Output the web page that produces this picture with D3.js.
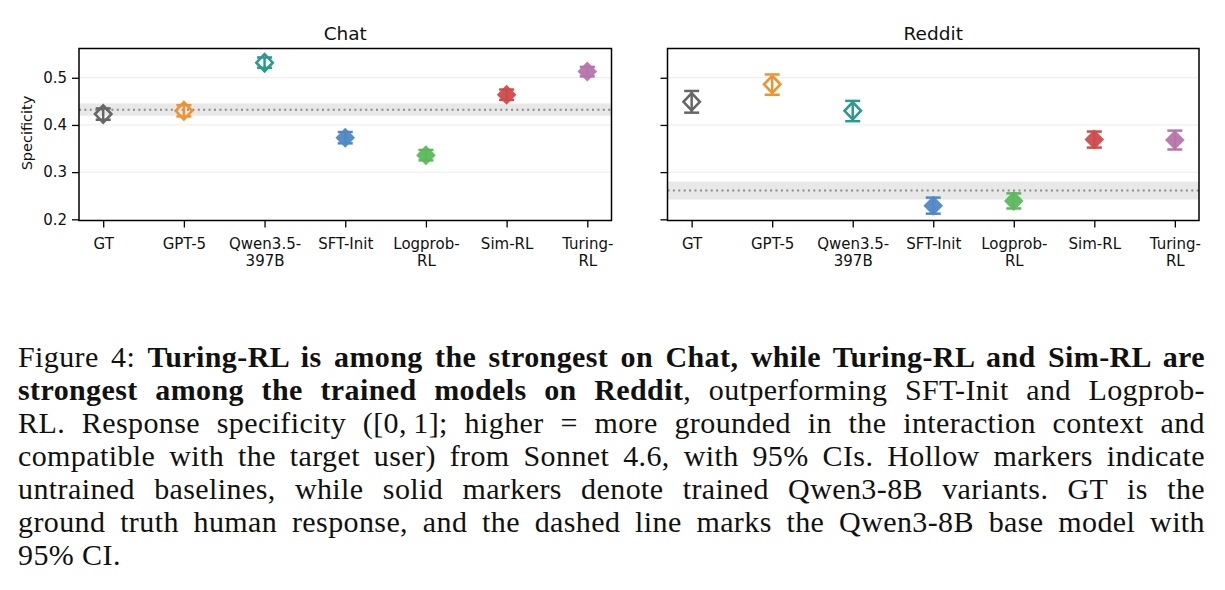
<!DOCTYPE html>
<html>
<head>
<meta charset="utf-8">
<script src="https://cdn.jsdelivr.net/npm/d3@7"></script>
<style>
  body { margin: 0; background: #fff; }
  #fig { position: absolute; left: 0; top: 0; }
  #caption { position: absolute; left: 18px; top: 340px; width: 1187px;
    font-family: "Liberation Serif", serif; font-size: 30px; line-height: 33px;
    letter-spacing: 0.4px; color: #111; }
  #caption div { text-align: justify; text-align-last: justify; white-space: nowrap; }
  #caption div.last { text-align-last: left; }
</style>
</head>
<body>
<svg id="fig" width="1225" height="320"></svg>
<div id="caption"></div>
<script>
// models and their labels (two-line ticks)
var models = ["GT", "GPT-5", "Qwen3.5-397B", "SFT-Init", "Logprob-RL", "Sim-RL", "Turing-RL"];
var tickLines = [["GT"], ["GPT-5"], ["Qwen3.5-", "397B"], ["SFT-Init"], ["Logprob-", "RL"], ["Sim-RL"], ["Turing-", "RL"]];
var trained = [false, false, false, true, true, true, true];
var colors = ["#666666", "#f0922f", "#2a9a8c", "#4f88c4", "#5cb85c", "#cf4b4b", "#b774aa"];

// Chat
var chatMean = [0.423, 0.430, 0.532, 0.373, 0.336, 0.464, 0.513];
var chatLo   = [0.411, 0.418, 0.521, 0.361, 0.325, 0.453, 0.503];
var chatHi   = [0.435, 0.442, 0.543, 0.385, 0.347, 0.475, 0.523];
var chatBase = [0.432, 0.4195, 0.4455];

// Reddit
var redditMean = [0.449, 0.486, 0.430, 0.229, 0.239, 0.369, 0.368];
var redditLo   = [0.426, 0.464, 0.408, 0.212, 0.223, 0.352, 0.348];
var redditHi   = [0.472, 0.507, 0.451, 0.246, 0.255, 0.386, 0.388];
var redditBase = [0.261, 0.242, 0.280];

var yTicks = [0.2, 0.3, 0.4, 0.5];
var yDomain = [0.1975, 0.562];

var svg = d3.select("#fig");
var plotTop = 48.5, plotBottom = 220.5;

function panel(title, x0, x1, mean, lo, hi, base, showLabels) {
  var g = svg.append("g");
  var x = d3.scalePoint().domain(models).range([x0, x1]).padding(0.3);
  var y = d3.scaleLinear().domain(yDomain).range([plotBottom, plotTop]);

  // grid
  g.selectAll(".grid").data(yTicks.slice(1)).enter().append("line")
    .attr("x1", x0).attr("x2", x1)
    .attr("y1", function(d){ return y(d); }).attr("y2", function(d){ return y(d); })
    .attr("stroke", "#ebebeb").attr("stroke-width", 1);

  // base model band and dotted line
  g.append("rect").attr("x", x0).attr("width", x1 - x0)
    .attr("y", y(base[2])).attr("height", y(base[1]) - y(base[2]))
    .attr("fill", "#e8e8e8");
  g.append("line").attr("x1", x0).attr("x2", x1)
    .attr("y1", y(base[0])).attr("y2", y(base[0]))
    .attr("stroke", "#8a8a8a").attr("stroke-width", 2).attr("stroke-dasharray", "2,3.4");

  // y axis
  var ya = g.append("g").attr("transform", "translate(" + x0 + ",0)")
    .call(d3.axisLeft(y).tickValues(yTicks).tickSize(7).tickPadding(5)
      .tickFormat(showLabels ? d3.format(".1f") : function(){ return ""; }));
  ya.select(".domain").remove();
  ya.selectAll(".tick line").attr("stroke", "#000").attr("stroke-width", 1.3);
  ya.selectAll("text").attr("font-family", "DejaVu Sans").attr("font-size", 15).attr("fill", "#111");

  // x axis
  var xa = g.append("g").attr("transform", "translate(0," + plotBottom + ")")
    .call(d3.axisBottom(x).tickSize(7).tickFormat(""));
  xa.select(".domain").remove();
  xa.selectAll(".tick line").attr("stroke", "#000").attr("stroke-width", 1.3);
  xa.selectAll(".tick").each(function(d, i) {
    var t = d3.select(this).append("text").attr("text-anchor", "middle")
      .attr("font-family", "DejaVu Sans").attr("font-size", 15).attr("fill", "#111");
    tickLines[i].forEach(function(s, k) {
      t.append("tspan").attr("x", 0).attr("y", 28 + k * 17.5).text(s);
    });
  });

  // error bars + markers
  var pts = g.selectAll(".pt").data(models).enter().append("g")
    .attr("transform", function(d){ return "translate(" + x(d) + ",0)"; });
  pts.append("line").attr("x1", 0).attr("x2", 0)
    .attr("y1", function(d, i){ return y(lo[i]); }).attr("y2", function(d, i){ return y(hi[i]); })
    .attr("stroke", function(d, i){ return colors[i]; }).attr("stroke-width", 2.5);
  [lo, hi].forEach(function(arr) {
    pts.append("line").attr("x1", -7.5).attr("x2", 7.5)
      .attr("y1", function(d, i){ return y(arr[i]); }).attr("y2", function(d, i){ return y(arr[i]); })
      .attr("stroke", function(d, i){ return colors[i]; }).attr("stroke-width", 2.5);
  });
  pts.append("path")
    .attr("transform", function(d, i){ return "translate(0," + y(mean[i]) + ")"; })
    .attr("d", function(d, i){ return trained[i] ? "M0,-10L9.8,0L0,10L-9.8,0Z" : "M0,-8.6L8.2,0L0,8.6L-8.2,0Z"; })
    .attr("fill", function(d, i){ return trained[i] ? colors[i] : "none"; })
    .attr("fill-opacity", 0.95)
    .attr("stroke", function(d, i){ return trained[i] ? "none" : colors[i]; })
    .attr("stroke-width", 2.6);

  // frame
  g.append("rect").attr("x", x0).attr("y", plotTop).attr("width", x1 - x0).attr("height", plotBottom - plotTop)
    .attr("fill", "none").attr("stroke", "#000").attr("stroke-width", 1.5);

  // title
  g.append("text").attr("x", (x0 + x1) / 2).attr("y", 40).attr("text-anchor", "middle")
    .attr("font-family", "DejaVu Sans").attr("font-size", 18.5).attr("fill", "#111").text(title);
}

panel("Chat", 79, 611.5, chatMean, chatLo, chatHi, chatBase, true);
panel("Reddit", 667.5, 1199, redditMean, redditLo, redditHi, redditBase, false);

svg.append("text").attr("transform", "translate(32,133) rotate(-90)").attr("text-anchor", "middle")
  .attr("font-family", "DejaVu Sans").attr("font-size", 14.5).attr("fill", "#111").text("Specificity");

// caption
var captionLines = [
  [["Figure 4: ", false], ["Turing-RL is among the strongest on Chat, while Turing-RL and Sim-RL are", true]],
  [["strongest among the trained models on Reddit", true], [", outperforming SFT-Init and Logprob-", false]],
  [["RL. Response specificity ([0,\u20091]; higher = more grounded in the interaction context and", false]],
  [["compatible with the target user) from Sonnet 4.6, with 95% CIs. Hollow markers indicate", false]],
  [["untrained baselines, while solid markers denote trained Qwen3-8B variants.  GT is the", false]],
  [["ground truth human response, and the dashed line marks the Qwen3-8B base model with", false]],
  [["95% CI.", false]]
];
var cap = d3.select("#caption");
captionLines.forEach(function(parts, i) {
  var line = cap.append("div").classed("last", i === captionLines.length - 1);
  parts.forEach(function(p) {
    line.append("span").style("font-weight", p[1] ? "bold" : "normal").text(p[0]);
  });
});
</script>
</body>
</html>
